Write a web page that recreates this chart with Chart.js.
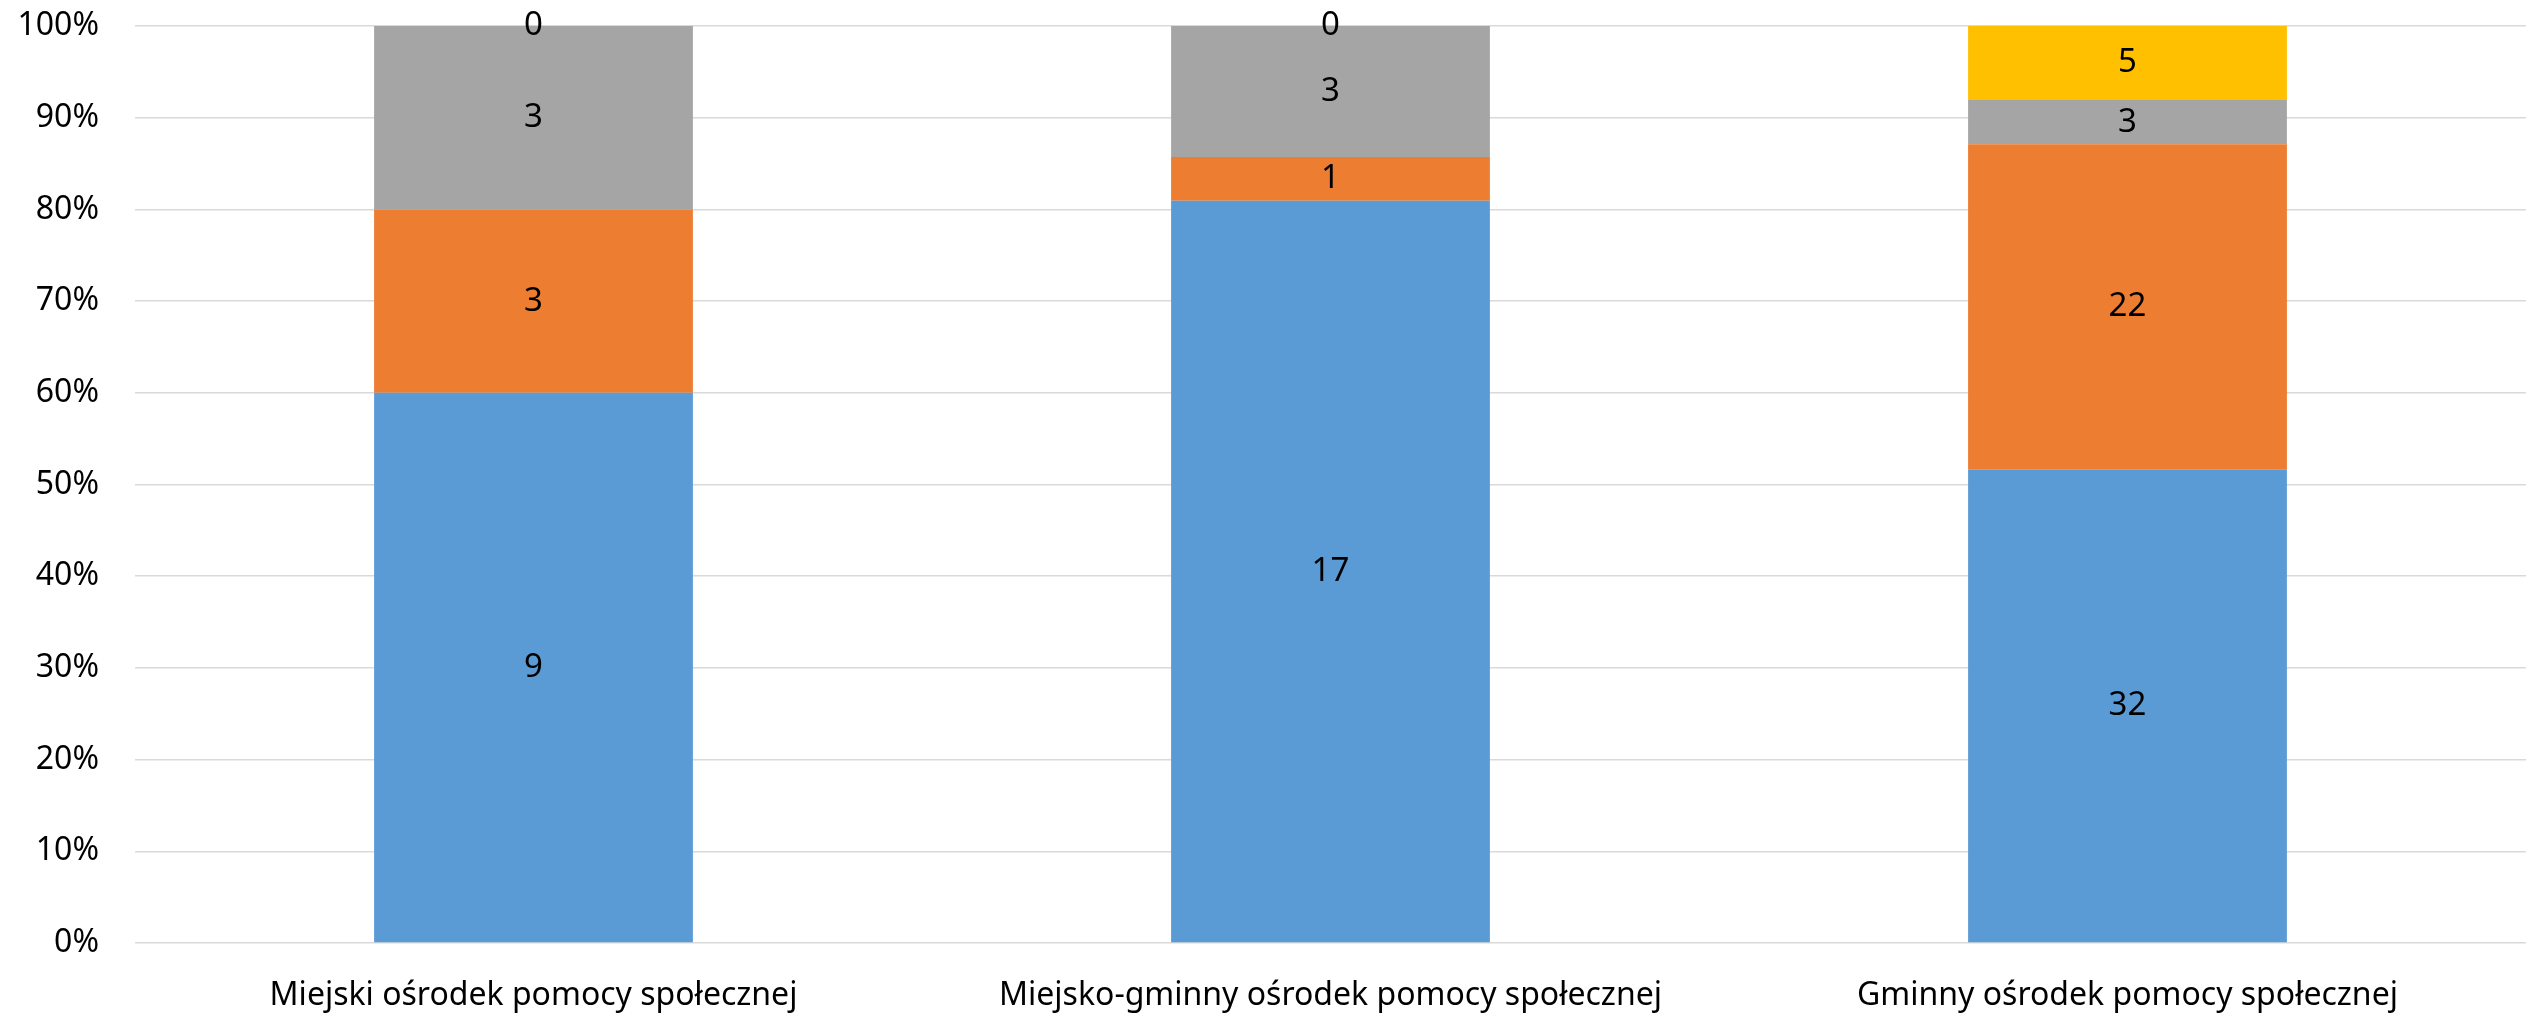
<!DOCTYPE html>
<html>
<head>
<meta charset="utf-8">
<script src="https://cdn.jsdelivr.net/npm/chart.js@4"></script>
<style>
  html, body { margin: 0; padding: 0; background: #fff; }
  #wrap { width: 2526px; height: 1013px; }
</style>
</head>
<body>
<div id="wrap"><canvas id="chart" width="2526" height="1013"></canvas></div>
<script>
// categories and counts per series (stacked to 100%)
const categories = [
  "Miejski ośrodek pomocy społecznej",
  "Miejsko-gminny ośrodek pomocy społecznej",
  "Gminny ośrodek pomocy społecznej"
];
const seriesBlue = [9, 17, 32];
const seriesOrange = [3, 1, 22];
const seriesGray = [3, 3, 3];
const seriesYellow = [0, 0, 5];
const yTicks = [0, 10, 20, 30, 40, 50, 60, 70, 80, 90, 100];

const FONT = "'Noto Sans', sans-serif";
const allSeries = [seriesBlue, seriesOrange, seriesGray, seriesYellow];
const colors = ["#5B9BD5", "#ED7D31", "#A5A5A5", "#FFC000"];

const totals = categories.map((_, i) => allSeries.reduce((s, arr) => s + arr[i], 0));
const toPct = arr => arr.map((v, i) => v / totals[i] * 100);

// draws the raw count in the middle of each segment
const valueLabels = {
  id: "valueLabels",
  afterDatasetsDraw(chart) {
    const ctx = chart.ctx;
    ctx.save();
    ctx.font = "33px " + FONT;
    ctx.fillStyle = "#000";
    ctx.textAlign = "center";
    ctx.textBaseline = "middle";
    chart.data.datasets.forEach((ds, di) => {
      chart.getDatasetMeta(di).data.forEach((bar, i) => {
        const p = bar.getCenterPoint();
        ctx.fillText(String(ds.raw[i]), p.x, p.y);
      });
    });
    ctx.restore();
  }
};

new Chart(document.getElementById("chart"), {
  type: "bar",
  data: {
    labels: categories,
    datasets: allSeries.map((arr, k) => ({
      data: toPct(arr),
      raw: arr,
      backgroundColor: colors[k],
      borderWidth: 0,
      barPercentage: 0.4,
      categoryPercentage: 1
    }))
  },
  options: {
    responsive: false,
    animation: false,
    layout: { padding: 0 },
    plugins: { legend: { display: false }, tooltip: { enabled: false } },
    scales: {
      x: {
        stacked: true,
        grid: { display: false, drawTicks: false },
        border: { display: false },
        ticks: { color: "#000", font: { family: FONT, size: 32 }, padding: 34, maxRotation: 0 },
        afterFit: s => { s.height = 70; s.paddingLeft = 0; s.paddingRight = 0; }
      },
      y: {
        stacked: true,
        min: 0,
        max: 100,
        afterBuildTicks: s => { s.ticks = yTicks.map(v => ({ value: v })); },
        grid: { color: "#D9D9D9", lineWidth: 1.5, drawTicks: false },
        border: { display: false },
        ticks: {
          color: "#000",
          font: { family: FONT, size: 32 },
          padding: 36,
          callback: v => v + "%"
        },
        afterFit: s => { s.width = 135; s.paddingTop = 26; s.paddingBottom = 0; }
      }
    }
  },
  plugins: [valueLabels]
});
</script>
</body>
</html>
